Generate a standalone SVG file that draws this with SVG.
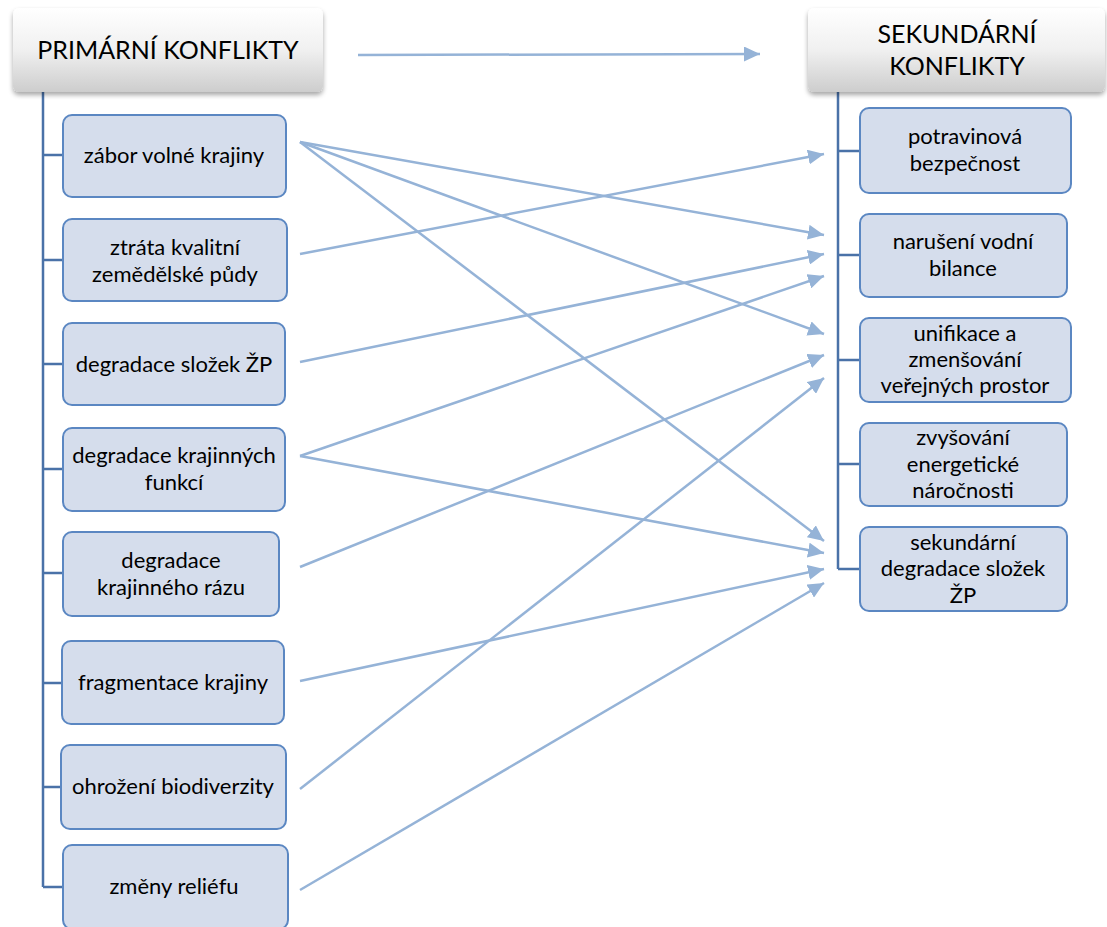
<svg xmlns="http://www.w3.org/2000/svg" width="1107" height="927" viewBox="0 0 1107 927">
<defs>
<linearGradient id="hg" x1="0" y1="0" x2="0" y2="1">
<stop offset="0" stop-color="#ffffff"/>
<stop offset="0.5" stop-color="#f0f0f0"/>
<stop offset="1" stop-color="#cdcdcd"/>
</linearGradient>
<filter id="sh" x="-10%" y="-10%" width="120%" height="130%">
<feGaussianBlur in="SourceAlpha" stdDeviation="2.5"/>
<feOffset dx="0" dy="3"/>
<feComponentTransfer><feFuncA type="linear" slope="0.35"/></feComponentTransfer>
<feMerge><feMergeNode/><feMergeNode in="SourceGraphic"/></feMerge>
</filter>
<marker id="ah" markerUnits="userSpaceOnUse" markerWidth="17" markerHeight="15" refX="16" refY="7.5" orient="auto">
<path d="M0,0 L16,7.5 L0,15 Z" fill="#95B3D7"/>
</marker>
</defs>
<style>
.hdr{fill:url(#hg);filter:url(#sh);}
.ht{font-family:Lato,"Open Sans",sans-serif;font-size:25px;fill:#000;text-anchor:middle;}
.box{fill:#D5DDEC;stroke:#5B87C2;stroke-width:2;}
.t{font-family:Lato,"Open Sans",sans-serif;font-size:22px;fill:#000;text-anchor:middle;}
.tree{stroke:#4A72A8;stroke-width:2.5;fill:none;}
.con{stroke:#95B3D7;stroke-width:2.5;fill:none;marker-end:url(#ah);}
</style>
<rect width="1107" height="927" fill="#ffffff"/>
<g id="tree-lines">
<path class="tree" d="M43,92 V887 M43,155 H63 M43,260 H63 M43,364 H63 M43,469 H63 M43,573 H63 M43,683 H62 M43,787 H61 M43,887 H63"/>
<path class="tree" d="M838,92 V569 M838,151 H860 M838,255 H860 M838,360 H860 M838,464 H860 M838,569 H860"/>
</g>
<g id="h-prim">
<rect class="hdr" x="13" y="8" width="310" height="84" rx="6"/>
<text class="ht" x="168" y="59">PRIMÁRNÍ KONFLIKTY</text>
</g>
<g id="h-sek">
<rect class="hdr" x="808" y="8" width="297" height="84" rx="6"/>
<text class="ht" x="957" y="43">SEKUNDÁRNÍ</text>
<text class="ht" x="957" y="75">KONFLIKTY</text>
</g>
<g id="p1"><rect class="box" x="63" y="115" width="223" height="82" rx="9"/><text class="t" x="174" y="163">zábor volné krajiny</text></g>
<g id="p2"><rect class="box" x="63" y="219" width="224" height="82" rx="9"/><text class="t" x="175" y="255">ztráta kvalitní</text><text class="t" x="175" y="282">zemědělské půdy</text></g>
<g id="p3"><rect class="box" x="63" y="323" width="222" height="82" rx="9"/><text class="t" x="174" y="372">degradace složek ŽP</text></g>
<g id="p4"><rect class="box" x="63" y="428" width="222" height="83" rx="9"/><text class="t" x="174" y="463">degradace krajinných</text><text class="t" x="174" y="490">funkcí</text></g>
<g id="p5"><rect class="box" x="63" y="532" width="216" height="84" rx="9"/><text class="t" x="171" y="568">degradace</text><text class="t" x="171" y="595">krajinného rázu</text></g>
<g id="p6"><rect class="box" x="62" y="641" width="222" height="83" rx="9"/><text class="t" x="173" y="690">fragmentace krajiny</text></g>
<g id="p7"><rect class="box" x="61" y="745" width="225" height="84" rx="9"/><text class="t" x="173" y="794">ohrožení biodiverzity</text></g>
<g id="p8"><rect class="box" x="63" y="845" width="225" height="84" rx="9"/><text class="t" x="174" y="894">změny reliéfu</text></g>
<g id="s1"><rect class="box" x="860" y="108" width="211" height="85" rx="9"/><text class="t" x="965" y="144">potravinová</text><text class="t" x="965" y="171">bezpečnost</text></g>
<g id="s2"><rect class="box" x="860" y="214" width="207" height="83" rx="9"/><text class="t" x="963" y="249">narušení vodní</text><text class="t" x="963" y="276">bilance</text></g>
<g id="s3"><rect class="box" x="860" y="318" width="211" height="84" rx="9"/><text class="t" x="965" y="341">unifikace a</text><text class="t" x="965" y="367">zmenšování</text><text class="t" x="965" y="393">veřejných prostor</text></g>
<g id="s4"><rect class="box" x="860" y="423" width="207" height="83" rx="9"/><text class="t" x="963" y="445">zvyšování</text><text class="t" x="963" y="472">energetické</text><text class="t" x="963" y="498">náročnosti</text></g>
<g id="s5"><rect class="box" x="860" y="527" width="207" height="84" rx="9"/><text class="t" x="963" y="550">sekundární</text><text class="t" x="963" y="576">degradace složek</text><text class="t" x="963" y="603">ŽP</text></g>
<g id="connectors">
<line class="con" x1="358" y1="55" x2="760" y2="54"/>
<line class="con" x1="300" y1="142" x2="824" y2="235"/>
<line class="con" x1="300" y1="142" x2="824" y2="334"/>
<line class="con" x1="300" y1="142" x2="824" y2="541"/>
<line class="con" x1="300" y1="254" x2="824" y2="154"/>
<line class="con" x1="300" y1="362" x2="824" y2="254"/>
<line class="con" x1="300" y1="456" x2="824" y2="276"/>
<line class="con" x1="300" y1="456" x2="824" y2="553"/>
<line class="con" x1="300" y1="567" x2="824" y2="355"/>
<line class="con" x1="300" y1="681" x2="824" y2="569"/>
<line class="con" x1="300" y1="789" x2="824" y2="378"/>
<line class="con" x1="300" y1="890" x2="824" y2="583"/>
</g>
</svg>
